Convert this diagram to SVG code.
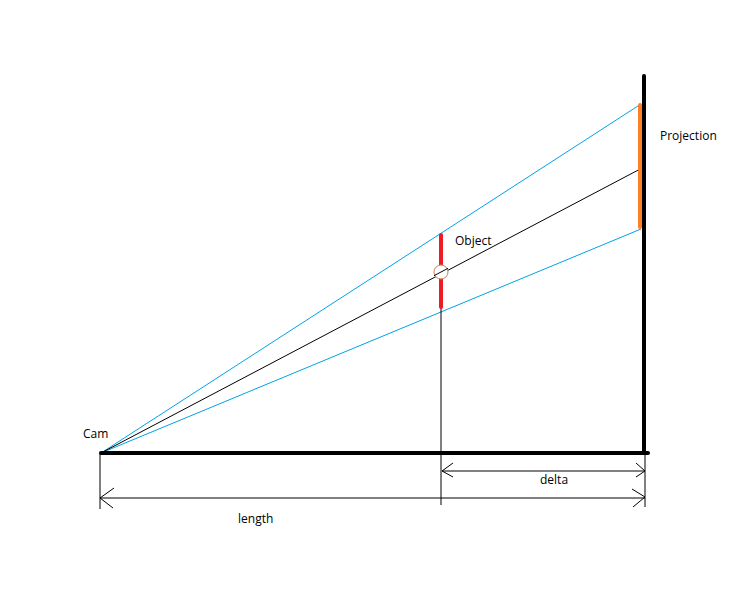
<svg xmlns="http://www.w3.org/2000/svg" width="756" height="600" viewBox="0 0 756 600">
<style>
.lbl{font-family:"Open Sans","Noto Sans","Liberation Sans",sans-serif;font-size:12px;fill:#000}
.thin{stroke:#000;stroke-width:1;fill:none}
.ray{stroke:#00a2e8;stroke-width:1;fill:none}
</style>
<rect width="756" height="600" fill="#fff"/>
<g id="connectors">
<line class="ray" x1="101" y1="453" x2="641" y2="104"/>
<line class="ray" x1="101" y1="453" x2="641" y2="229"/>
<line class="thin" x1="101" y1="453" x2="644" y2="167"/>
<line class="thin" x1="441" y1="308" x2="441" y2="505"/>
<line class="thin" x1="100" y1="453" x2="100" y2="509"/>
<line class="thin" x1="645" y1="453" x2="645" y2="507"/>
<line class="thin" x1="442" y1="471" x2="645" y2="471"/>
<polyline class="thin" points="453,463 442,471 453,477"/>
<polyline class="thin" points="636,463 645,471 636,477"/>
<line class="thin" x1="100" y1="498" x2="645" y2="498"/>
<polyline class="thin" points="114,488 100,498 113,508"/>
<polyline class="thin" points="632,489 645,497 633,507"/>
</g>
<g id="ground">
<line x1="101" y1="453" x2="648" y2="453" stroke="#000" stroke-width="4" stroke-linecap="round"/>
</g>
<g id="screen">
<line x1="644" y1="76" x2="644" y2="453" stroke="#000" stroke-width="4" stroke-linecap="round"/>
<line x1="640" y1="105" x2="640" y2="227" stroke="#ff7f27" stroke-width="4" stroke-linecap="round"/>
</g>
<g id="object">
<line x1="441" y1="235" x2="441" y2="307" stroke="#ed1c24" stroke-width="4" stroke-linecap="round"/>
<circle cx="441" cy="272" r="7" fill="#fff" stroke="#c8825a" stroke-width="1"/>
<line class="thin" x1="434" y1="275.7" x2="448" y2="268.3"/>
</g>
<g id="labels">
<text class="lbl" x="83" y="438">Cam</text>
<text class="lbl" x="455" y="245">Object</text>
<text class="lbl" x="660" y="140">Projection</text>
<text class="lbl" x="540" y="484">delta</text>
<text class="lbl" x="238" y="523">length</text>
</g>
</svg>
